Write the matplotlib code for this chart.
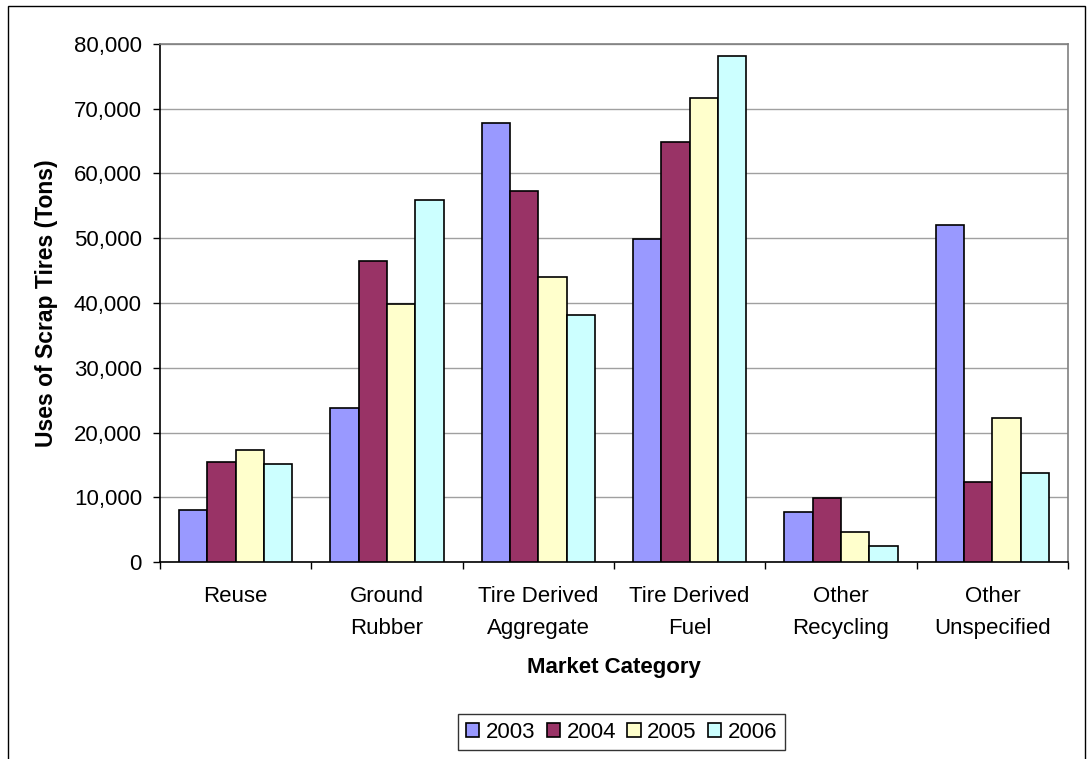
import matplotlib
matplotlib.use("Agg")
import matplotlib.pyplot as plt
from matplotlib.patches import Rectangle
from matplotlib.ticker import FuncFormatter, FixedLocator
import numpy as np

categories = ["Reuse", "Ground\nRubber", "Tire Derived\nAggregate", "Tire Derived\nFuel",
              "Other\nRecycling", "Other\nUnspecified"]
years = ["2003", "2004", "2005", "2006"]
v2003 = [8000, 23800, 67800, 49800, 7800, 52000]
v2004 = [15400, 46500, 57300, 64800, 9900, 12400]
v2005 = [17400, 39900, 44000, 71700, 4700, 22200]
v2006 = [15200, 55900, 38200, 78100, 2500, 13800]
series = [v2003, v2004, v2005, v2006]
colors = ["#9999FF", "#993366", "#FFFFCC", "#CCFFFF"]

plt.rcParams['font.family'] = ['Liberation Sans', 'DejaVu Sans']
FS = 16

fig = plt.figure(figsize=(10.89, 7.59), dpi=100)
ax = fig.add_axes([160/1089, 1-562.3/759, (1068-160)/1089, (562.3-43.7)/759])

x = np.arange(len(categories))
w = 0.187
for i, (vals, c, lab) in enumerate(zip(series, colors, years)):
    ax.bar(x + (i - 1.5) * w, vals, width=w, color=c, edgecolor="black",
           linewidth=1.2, label=lab, zorder=3)

ax.set_xlim(-0.5, len(categories) - 0.5)
ax.set_ylim(0, 80000)
ax.set_yticks(np.arange(0, 80001, 10000))
ax.yaxis.set_major_formatter(FuncFormatter(lambda v, p: f"{int(v):,}"))
ax.grid(axis="y", color="#A0A0A0", linewidth=1.0, zorder=0)

ax.set_xticks(x)
ax.set_xticklabels(categories, fontsize=FS, linespacing=1.72)
ax.xaxis.set_minor_locator(FixedLocator(np.arange(-0.5, len(categories), 1.0)))
ax.tick_params(axis="x", which="major", length=0, pad=17)
ax.tick_params(axis="x", which="minor", length=5, width=1, color="black", direction="out")
ax.tick_params(axis="y", length=5, width=1, labelsize=FS, pad=8)

for s in ["left", "bottom"]:
    ax.spines[s].set_color("black")
    ax.spines[s].set_linewidth(1.2)
for s in ["top", "right"]:
    ax.spines[s].set_color("#808080")
    ax.spines[s].set_linewidth(1.2)

ax.set_ylabel("Uses of Scrap Tires (Tons)", fontsize=16.5, fontweight="bold")
ax.yaxis.set_label_coords((46.5-160)/908, 0.5)
ax.set_xlabel("Market Category", fontsize=FS, fontweight="bold")
ax.xaxis.set_label_coords(0.5, -(668-562.3)/518.6)
ax.xaxis.label.set_verticalalignment("center")
ax.yaxis.label.set_verticalalignment("center")

leg = fig.legend(loc="center", bbox_to_anchor=(621.7/1089, 1-732/759), ncol=4,
                 fontsize=FS, frameon=True, fancybox=False, edgecolor="black",
                 handlelength=0.6, handleheight=0.6, handletextpad=0.3,
                 columnspacing=0.5, borderpad=0.35)
leg.get_frame().set_linewidth(1.0)

fig.patches.append(Rectangle((8/1089, -0.05), (1085-8)/1089, 1.05 - 6/759,
                             transform=fig.transFigure, fill=False,
                             edgecolor="black", linewidth=1.0))

fig.savefig("out.png", dpi=100)
